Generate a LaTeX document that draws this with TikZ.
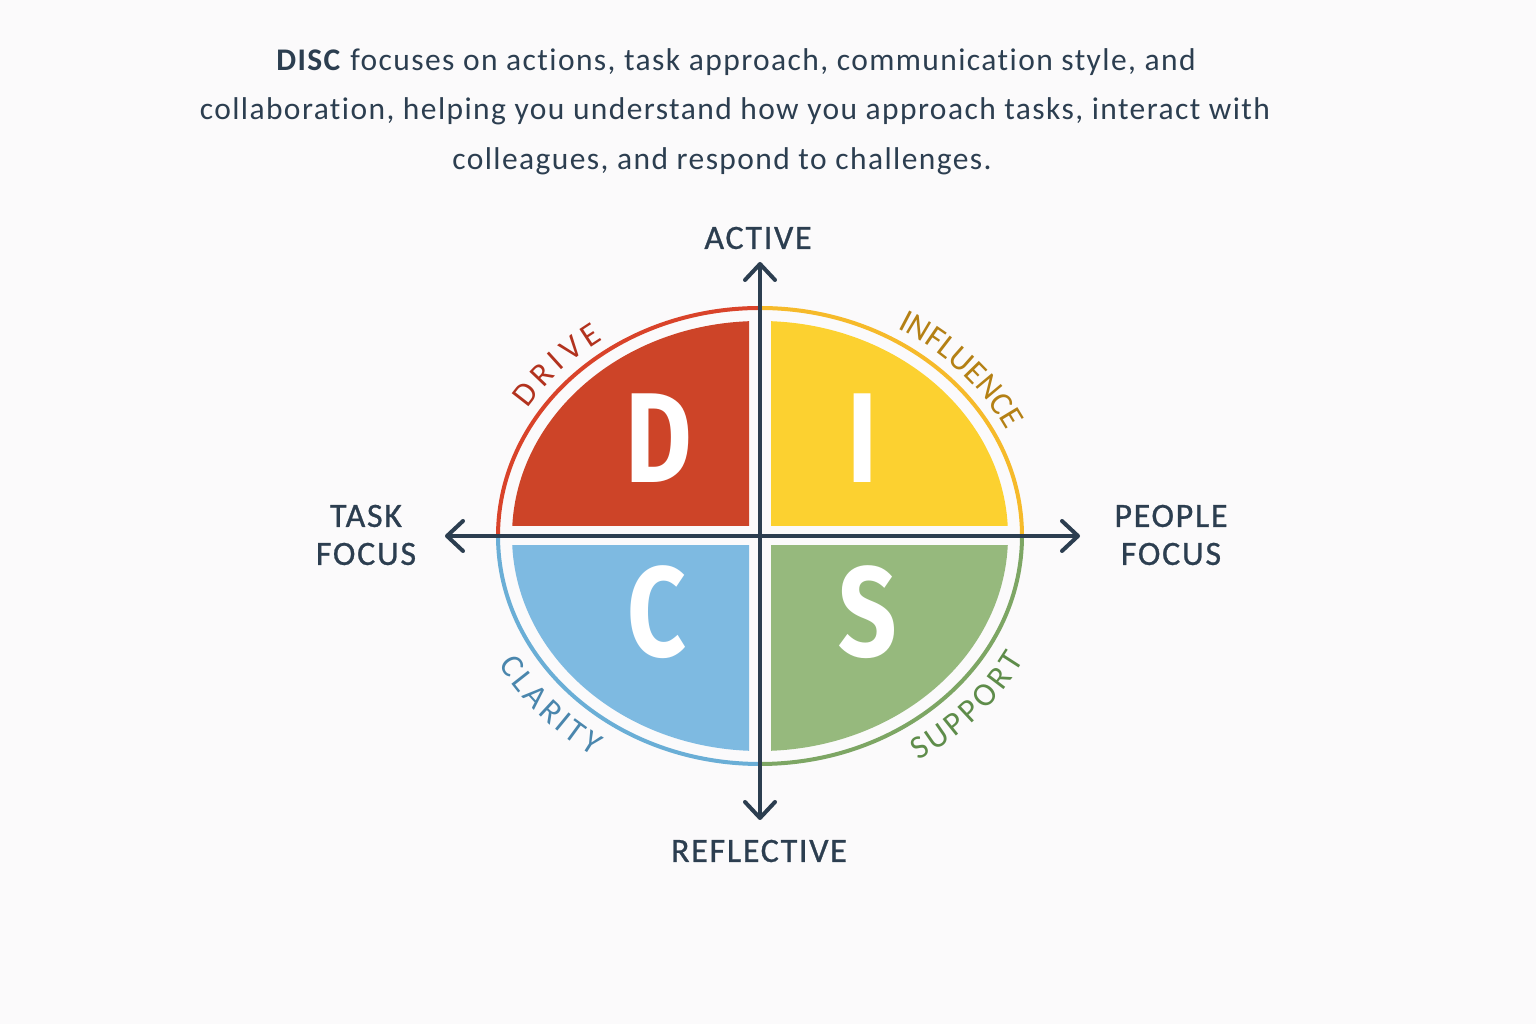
\documentclass[tikz,border=0pt]{standalone}
\usepackage{fontspec}
\setmainfont{Carlito}[LetterSpace=4.5,Ligatures=NoCommon]
\newfontfamily\lettfont{Fira Sans}
\newfontfamily\labfont{Carlito}[LetterSpace=5,FakeBold=0.8]
\newfontfamily\arcfont{Carlito}[LetterSpace=2]
\usetikzlibrary{arrows.meta,decorations.text}
\definecolor{bg}{RGB}{251,250,251}
\definecolor{ink}{RGB}{44,62,80}
\definecolor{dfill}{RGB}{205,68,40}
\definecolor{ifill}{RGB}{252,209,48}
\definecolor{cfill}{RGB}{126,186,225}
\definecolor{sfill}{RGB}{150,185,125}
\definecolor{dring}{RGB}{217,67,42}
\definecolor{iring}{RGB}{246,186,42}
\definecolor{cring}{RGB}{106,174,214}
\definecolor{sring}{RGB}{125,166,100}
\definecolor{dtext}{RGB}{178,50,30}
\definecolor{itext}{RGB}{180,128,20}
\definecolor{ctext}{RGB}{74,134,173}
\definecolor{stext}{RGB}{94,140,74}
\begin{document}
\begin{tikzpicture}[x=1pt,y=1pt,
  axis/.style={ink,line width=4pt,line cap=round,
    {Straight Barb[length=16pt,width=30pt,round]}-{Straight Barb[length=16pt,width=30pt,round]}},
  ring/.style={line width=4pt},
  bigletter/.style={text=white,font=\lettfont\bfseries\fontsize{128}{128}\selectfont,xscale=0.8,inner sep=0pt},
  axlabel/.style={text=ink,font=\labfont\fontsize{34}{38}\selectfont,align=center,inner sep=0pt},
  titleline/.style={text=ink,font=\fontsize{31.5}{36}\selectfont,inner sep=0pt},
  arclabel/.style={decorate,decoration={text along path,text align=fit to path,text color=#1}}
]
\useasboundingbox (0,0) rectangle (1536,1024);
\fill[bg] (0,0) rectangle (1536,1024);

% title
\node[titleline] (t1) at (736,962) {\textbf{DISC} focuses on actions, task approach, communication style, and};
\node[titleline] (t2) at (735,913) {collaboration, helping you understand how you approach tasks, interact with};
\node[titleline] (t3) at (722,863) {colleagues, and respond to challenges.};

\coordinate (O) at (760,488);

% quadrant fills
\begin{scope}\clip (749,498) rectangle (450,760);
  \fill[dfill] (O) ellipse[x radius=248,y radius=215];\end{scope}
\begin{scope}\clip (771,498) rectangle (1070,760);
  \fill[ifill] (O) ellipse[x radius=248,y radius=215];\end{scope}
\begin{scope}\clip (749,478) rectangle (450,220);
  \fill[cfill] (O) ellipse[x radius=248,y radius=215];\end{scope}
\begin{scope}\clip (771,478) rectangle (1070,220);
  \fill[sfill] (O) ellipse[x radius=248,y radius=215];\end{scope}

% outer rings
\draw[ring,dring] (760,716) arc[start angle=90,end angle=180,x radius=262,y radius=228];
\draw[ring,iring] (760,716) arc[start angle=90,end angle=0,x radius=262,y radius=228];
\draw[ring,cring] (498,488) arc[start angle=180,end angle=270,x radius=262,y radius=228];
\draw[ring,sring] (1022,488) arc[start angle=0,end angle=-90,x radius=262,y radius=228];

% axes
\coordinate (atop) at (760,762);
\coordinate (abot) at (760,204);
\coordinate (aleft) at (445,488);
\coordinate (aright) at (1080,488);
\draw[axis] (abot) -- (atop);
\draw[axis] (aleft) -- (aright);

% big letters
\node[bigletter] (D) at (659,586) {D};
\node[bigletter] (I) at (862,586) {I};
\node[bigletter] (C) at (657,412) {C};
\node[bigletter] (S) at (868,412) {S};

% axis labels
\node[axlabel] (active) at (758,786) {ACTIVE};
\node[axlabel] (reflective) at (759,173) {REFLECTIVE};
\node[axlabel] (task) at (366,489) {TASK\\FOCUS};
\node[axlabel] (people) at (1171,489) {PEOPLE\\FOCUS};

% curved labels
\path[shift={(760,488)},arclabel=dtext,decoration={text={|\arcfont\fontsize{33}{33}\selectfont|DRIVE}}]
  (148:274 and 240) arc[start angle=148,end angle=125,x radius=274,y radius=240];
\path[shift={(760,488)},arclabel=itext,decoration={text={|\arcfont\fontsize{33}{33}\selectfont|INFLUENCE}}]
  (60:274 and 240) arc[start angle=60,end angle=26,x radius=274,y radius=240];
\path[shift={(760,488)},arclabel=ctext,decoration={text={|\arcfont\fontsize{33}{33}\selectfont|CLARITY}}]
  (209:299 and 265) arc[start angle=209,end angle=236,x radius=299,y radius=265];
\path[shift={(760,488)},arclabel=stext,decoration={text={|\arcfont\fontsize{33}{33}\selectfont|SUPPORT}}]
  (302:299 and 265) arc[start angle=302,end angle=332,x radius=299,y radius=265];
\end{tikzpicture}
\end{document}
